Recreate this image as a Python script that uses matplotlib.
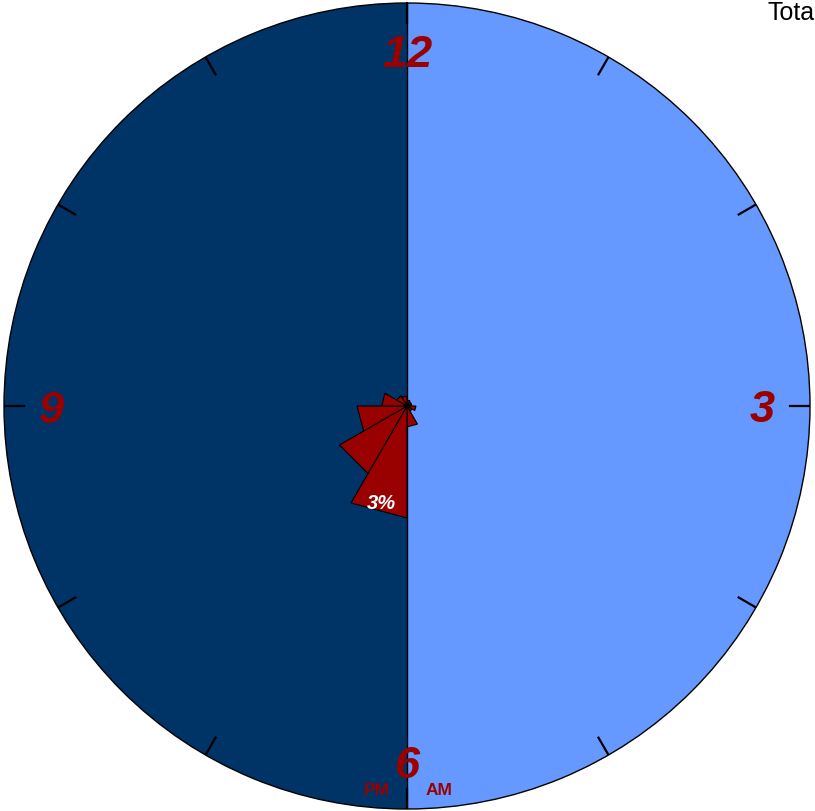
import numpy as np
import matplotlib
matplotlib.use("Agg")
import matplotlib.pyplot as plt
import matplotlib.transforms as mtransforms

plt.rcParams['font.family'] = ['Liberation Sans', 'DejaVu Sans']

# Data: share of events per clock sector (percent), starting at 12 going clockwise
sector_start_deg = [0, 30, 60, 90, 120, 150, 180, 210, 240, 270, 300, 330]
sector_pct = [0.16, 0.13, 0.13, 0.24, 0.16, 0.56, 3.0, 2.09, 1.34, 0.68, 0.32, 0.27]
sector_width_deg = 30
label_threshold = 2.5

hour_labels = ["12", "3", "6", "9"]
hour_label_deg = [0, 90, 180, 270]
tick_deg = list(range(0, 360, 30))
half_labels = ["AM", "PM"]
total_label = "Total"

rmax = 10.8
RED = "#990000"
AM_COLOR = "#6699FF"
PM_COLOR = "#003366"

fig = plt.figure(figsize=(8.15, 8.11), dpi=100)
ax = fig.add_axes([4 / 815, 2 / 811, 806 / 815, 806 / 811], projection="polar")
ax.set_theta_zero_location("N")
ax.set_theta_direction(-1)
ax.set_ylim(0, rmax)
ax.grid(False)
ax.set_xticks([])
ax.set_yticks([])
ax.spines["polar"].set_linewidth(1.0)
ax.spines["polar"].set_color("black")

# background halves
ax.bar(np.pi / 2, rmax, width=np.pi, bottom=0, color=AM_COLOR, edgecolor="none", zorder=1)
ax.bar(3 * np.pi / 2, rmax, width=np.pi, bottom=0, color=PM_COLOR, edgecolor="none", zorder=1)
ax.plot([0, 0], [0, rmax], color="black", lw=1.0, zorder=2)
ax.plot([np.pi, np.pi], [0, rmax], color="black", lw=1.0, zorder=2)

# ticks
for d in tick_deg:
    t = np.deg2rad(d)
    ax.plot([t, t], [rmax * (1 - 20 / 403), rmax], color="black", lw=1.6, zorder=3)

# wedges
for s, v in zip(sector_start_deg, sector_pct):
    t0 = np.deg2rad(s)
    t1 = np.deg2rad(s + sector_width_deg)
    ax.fill([0, t0, t1, 0], [0, v, v, 0], facecolor=RED, edgecolor="black", lw=0.8, zorder=4)
    if v >= label_threshold:
        tm = np.deg2rad(s + sector_width_deg / 2)
        ax.text(tm, v * 0.90, f"{v:.0f}%", color="white", fontsize=14.5, fontweight="bold",
                fontstyle="italic", ha="center", va="center", zorder=5)

# hour labels
down = mtransforms.offset_copy(ax.transData, fig=fig, x=0, y=-5, units="dots")
for lab, d in zip(hour_labels, hour_label_deg):
    ax.text(np.deg2rad(d), rmax * 0.882, lab, color=RED, fontsize=32.5, fontweight="bold",
            fontstyle="italic", ha="center", va="center", zorder=5, transform=down)

# AM / PM
ax.text(np.deg2rad(175.3), rmax * 0.957, half_labels[0], color=RED, fontsize=12.5,
        fontweight="bold", ha="center", va="center", zorder=5)
ax.text(np.deg2rad(184.5), rmax * 0.957, half_labels[1], color=RED, fontsize=12.5,
        fontweight="bold", ha="center", va="center", zorder=5)

fig.text(767 / 815, 1 - 13 / 811, total_label, fontsize=18, color="black", ha="left", va="center")

fig.savefig("out.png", dpi=100)
